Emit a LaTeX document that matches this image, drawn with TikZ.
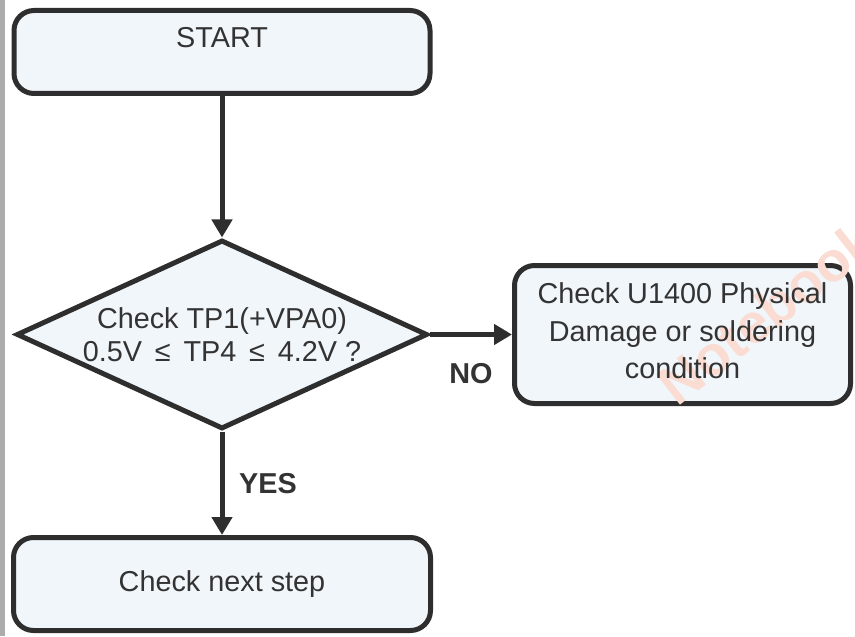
\documentclass[tikz,border=0pt]{standalone}
\usepackage{fontspec}
\setmainfont{Liberation Sans}
\usepackage{tikz}
\usetikzlibrary{shapes.geometric,arrows.meta}
\definecolor{boxfill}{HTML}{F1F6FB}
\definecolor{boxline}{HTML}{2E2E2E}
\definecolor{txtcol}{HTML}{333333}
\definecolor{wmark}{HTML}{FADCD3}
\begin{document}
\begin{tikzpicture}[x=0.5pt,y=-0.5pt,
  every node/.style={font=\fontsize{14.4}{18.75}\selectfont, text=txtcol},
  termbox/.style={draw=boxline, fill=boxfill, line width=2.5pt, rounded corners=10pt, inner sep=0pt},
  decbox/.style={diamond, draw=boxline, fill=boxfill, line width=2.5pt, inner sep=0pt, aspect=2.17, align=center, font=\fontsize{14.4}{16.5}\selectfont},
  flow/.style={draw=boxline, line width=2.5pt, -{Triangle[length=9pt,width=10pt]}},
  answer/.style={font=\fontsize{14.4}{18}\selectfont\bfseries}]
\useasboundingbox (0,0) rectangle (855,636);
\fill[gray!65] (0,0) rectangle (5,636);
\node[termbox, minimum width=208pt, minimum height=41.5pt] (start) at (222,52) {};
\node (starttxt) at (222,38) {START};
\node[decbox, minimum width=205.5pt, minimum height=94.5pt] (check) at (222,334.5) {Check TP1(+VPA0)\\0.5V \,≤\, TP4 \,≤\, 4.2V ?};
\node[termbox, minimum width=168pt, minimum height=69pt] (damage) at (682.5,334.5) {};
\node[rotate=38, text=wmark, font=\fontsize{28}{28}\selectfont\bfseries, anchor=south west, inner sep=0pt] (wm) at (678,408) {Notebook};
\node[align=center] (damagetxt) at (682.5,331) {Check U1400 Physical\\Damage or soldering\\condition};
\node[termbox, minimum width=208.5pt, minimum height=46.5pt] (next) at (222,584) {Check next step};
\draw[flow] (start) -- (check);
\draw[flow] (check) -- node[answer, midway, below=10pt] (no) {NO} (damage);
\draw[flow] (check) -- node[answer, midway, right=4pt] (yes) {YES} (next);
\end{tikzpicture}
\end{document}
